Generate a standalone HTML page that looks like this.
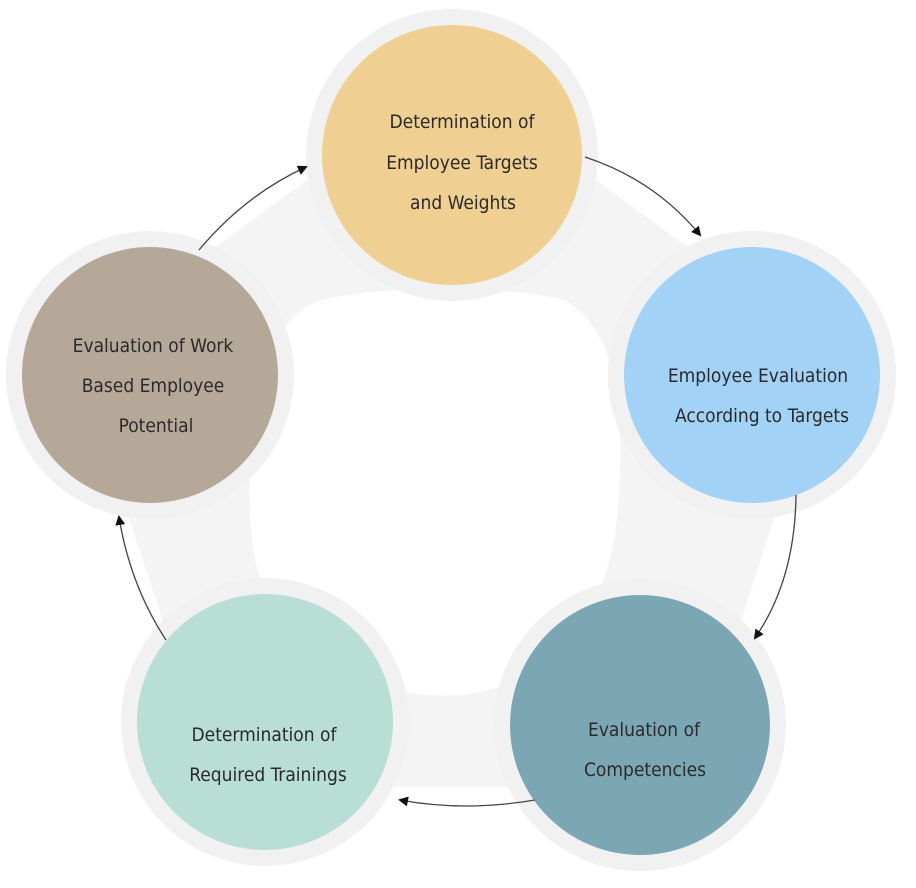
<!DOCTYPE html>
<html><head><style>
html,body{margin:0;padding:0;background:#fff}
svg{display:block}
text{font-family:"DejaVu Sans Condensed","Liberation Sans",sans-serif;font-size:19px;fill:#2a2a2a;text-anchor:middle}
</style></head><body>
<svg width="916" height="888" viewBox="0 0 916 888" xmlns="http://www.w3.org/2000/svg">
<defs>
<marker id="a" markerWidth="10" markerHeight="10" refX="8" refY="5" orient="auto" markerUnits="userSpaceOnUse">
<path d="M0,0 L10,5 L0,10 z" fill="#111"/></marker>
</defs>
<polygon points="452,155 752,375 640,722 265,722 150,375" fill="#f4f4f4" stroke="#f4f4f4" stroke-width="130" stroke-linejoin="round"/>
<path d="M330,298 C400,285 500,285 565,300 C615,330 622,400 620,470 C618,560 600,620 540,665 C500,700 420,705 370,680 C320,655 270,620 255,560 C245,500 248,420 270,360 C285,320 300,305 330,298 Z" fill="#fff"/>
<g fill="#f1f1f1">
<circle cx="452" cy="155" r="146"/>
<circle cx="752" cy="375" r="144"/>
<circle cx="640" cy="725" r="146"/>
<circle cx="265" cy="722" r="144"/>
<circle cx="150" cy="375" r="144"/>
</g>
<circle cx="452" cy="155" r="130" fill="#f0d092"/>
<circle cx="752" cy="375" r="128" fill="#a2d2f6"/>
<circle cx="640" cy="725" r="130" fill="#7aa7b3"/>
<circle cx="265" cy="722" r="128" fill="#b8ded6"/>
<circle cx="150" cy="375" r="128" fill="#b6a898"/>
<g fill="none" stroke="#444" stroke-width="1.3">
<path d="M585,157 Q655,180 700,235" marker-end="url(#a)"/>
<path d="M796,495 Q795,580 755,638" marker-end="url(#a)"/>
<path d="M535,800 Q465,812 400,800" marker-end="url(#a)"/>
<path d="M166,640 Q130,585 119,517" marker-end="url(#a)"/>
<path d="M199,250 Q245,195 306,167" marker-end="url(#a)"/>
</g>
<text x="462" y="128">Determination of</text>
<text x="462" y="169">Employee Targets</text>
<text x="463" y="209">and Weights</text>
<text x="758" y="382">Employee Evaluation</text>
<text x="762" y="422">According to Targets</text>
<text x="644" y="736">Evaluation of</text>
<text x="645" y="776">Competencies</text>
<text x="264" y="741">Determination of</text>
<text x="268" y="781">Required Trainings</text>
<text x="153" y="352">Evaluation of Work</text>
<text x="153" y="392">Based Employee</text>
<text x="156" y="432">Potential</text>
</svg>
</body></html>
